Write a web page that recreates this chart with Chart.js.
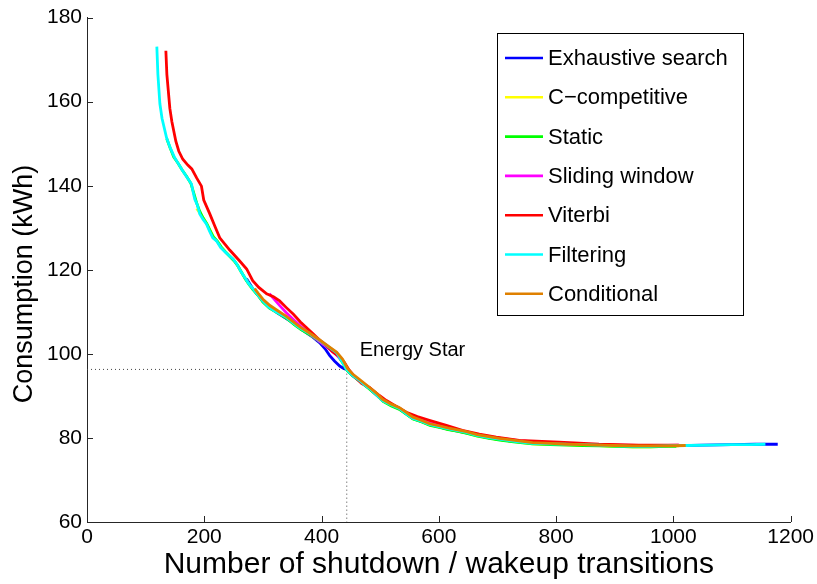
<!DOCTYPE html>
<html>
<head>
<meta charset="utf-8">
<script src="https://cdn.jsdelivr.net/npm/chart.js@4.4.0/dist/chart.umd.min.js"></script>
<style>
  body { margin: 0; background: #fff; }
  #wrap { width: 817px; height: 584px; }
</style>
</head>
<body>
<div id="wrap"><canvas id="grafik" width="817" height="584"></canvas></div>
<script>
// series labels, in the order MATLAB plotted them
const seriesNames = ['Exhaustive search', 'C\u2212competitive', 'Static', 'Sliding window', 'Viterbi', 'Filtering', 'Conditional'];
const seriesColors = ['#0000ff', '#ffff00', '#00ff00', '#ff00ff', '#ff0000', '#00ffff', '#df8000'];

const xTicks = [0, 200, 400, 600, 800, 1000, 1200];
const yTicks = [60, 80, 100, 120, 140, 160, 180];

// energy star reference point
const energyStarX = 443;
const energyStarY = 96.3;

const exhaustiveX = [272, 281, 290, 300, 312, 325, 340, 355, 368, 383, 397, 406, 414, 422, 431, 437, 443, 452, 465, 482, 504, 533, 555, 584, 615, 647, 685, 720, 760, 817, 873, 930, 990, 1050, 1100, 1140, 1178];
const exhaustiveY = [117.9, 115.9, 114.2, 112.5, 111.0, 109.7, 108.4, 107.0, 105.6, 104.2, 102.6, 101.2, 99.6, 98.3, 97.1, 96.6, 96.2, 94.9, 93.6, 91.7, 88.9, 86.9, 84.7, 83.2, 82.1, 81.2, 80.0, 79.3, 78.8, 78.5, 78.3, 78.1, 78.1, 78.3, 78.4, 78.5, 78.5];

const ccompX = [187, 193, 199, 205, 211, 216, 222, 229, 237, 244, 250, 256, 263, 270, 276, 282, 291, 300, 311, 321, 331, 341, 353, 364, 380, 397, 412, 426, 436, 443, 453, 465, 482, 493, 504, 518, 533, 545, 555, 570, 584, 600, 615, 630, 647, 665, 685, 703, 730, 759, 790, 817, 845, 873, 900, 930, 960, 990, 1010];
const ccompY = [134.6, 133.4, 132.2, 130.8, 129.1, 127.8, 126.9, 125.4, 124.2, 123.2, 122.4, 121.2, 119.5, 118.0, 116.6, 115.6, 114.1, 112.5, 111.0, 110.1, 109.3, 108.5, 107.1, 106.0, 104.6, 103.0, 101.5, 100.1, 98.0, 96.2, 94.9, 93.6, 91.7, 90.4, 88.8, 87.8, 86.9, 85.7, 84.6, 83.9, 83.1, 82.6, 82.1, 81.7, 81.2, 80.5, 80.0, 79.6, 79.1, 78.6, 78.5, 78.4, 78.3, 78.2, 78.0, 77.9, 77.9, 78.0, 78.1];

const staticX = [136, 142, 148, 155, 162, 170, 177, 182, 187, 192, 198, 204, 210, 215, 222, 229, 237, 244, 251, 257, 264, 270, 277, 283, 292, 300, 311, 322, 333, 342, 354, 365, 381, 397, 412, 426, 436, 444, 454, 466, 483, 494, 505, 519, 534, 546, 556, 571, 585, 601, 616, 631, 648, 666, 686, 704, 731, 760, 790, 818, 846, 874, 901, 931, 961, 991, 1005];
const staticY = [151.2, 148.9, 146.8, 145.4, 143.8, 142.2, 140.6, 138.3, 135.9, 134.0, 132.3, 131.0, 129.3, 127.9, 126.8, 125.4, 124.1, 123.1, 122.1, 121.0, 119.3, 117.8, 116.4, 115.3, 113.9, 112.3, 110.9, 110.0, 109.1, 108.3, 106.9, 105.8, 104.5, 102.9, 101.4, 99.9, 97.9, 96.0, 94.7, 93.4, 91.5, 90.2, 88.7, 87.6, 86.7, 85.5, 84.5, 83.8, 83.0, 82.5, 82.0, 81.6, 81.1, 80.4, 79.9, 79.5, 79.0, 78.6, 78.4, 78.3, 78.2, 78.1, 78.0, 77.9, 77.9, 78.0, 78.0];

const slidingX = [311, 318, 328, 340, 352, 365, 380, 396, 412, 425, 436, 445, 455, 468, 482, 500, 515, 530, 548, 565, 585, 610, 640, 670, 700, 740, 790, 840, 890, 940, 990, 1010];
const slidingY = [114.3, 113.2, 111.6, 109.8, 108.2, 106.5, 104.8, 103.0, 101.3, 99.8, 98.3, 96.4, 94.8, 93.2, 91.9, 89.6, 88.3, 87.3, 85.7, 84.7, 83.7, 82.8, 81.7, 80.7, 80.0, 79.3, 78.8, 78.5, 78.3, 78.2, 78.2, 78.3];

const viterbiX = [134.5, 136.2, 141.3, 144.7, 151.5, 156.6, 163.4, 171.9, 178.7, 187.2, 195.2, 199.1, 209.4, 217.9, 226.4, 243.4, 260.4, 272.3, 282.6, 293, 306.4, 318, 328.5, 340, 352, 364, 374.5, 386, 396.6, 408, 418.7, 430.6, 439.1, 447.7, 456.2, 468.1, 481.7, 498.7, 510.6, 527.7, 544.7, 563.4, 583.8, 612.8, 640, 669, 697.9, 737, 805, 873, 941, 992, 1009];
const viterbiY = [172.1, 166.5, 158.4, 155.3, 150.6, 148.2, 146.3, 144.9, 144.0, 141.8, 139.9, 136.6, 133.3, 130.4, 127.6, 124.7, 122.1, 120.2, 117.4, 115.8, 114.3, 113.6, 112.6, 111.0, 109.4, 107.6, 106.2, 104.7, 103.3, 102.0, 100.5, 99.3, 97.9, 96.0, 94.6, 93.0, 92.0, 90.1, 88.9, 87.5, 86.1, 85.1, 84.2, 83.0, 81.8, 80.9, 80.2, 79.4, 79.0, 78.5, 78.3, 78.3, 78.3];

const filteringX = [119.1, 120.9, 124.3, 128, 135.7, 142, 149.8, 156, 163.4, 171, 178.2, 181, 183.8, 188, 192.3, 198, 203.7, 209, 214.5, 220.8, 228, 236, 243, 249, 255.3, 262, 268.9, 275, 280.9, 290, 299.6, 310, 320, 330, 339.9, 352, 362.6, 380, 396.6, 411, 425.5, 435, 442.6, 452, 464.7, 472, 481.7, 492, 503.8, 518, 532.8, 544, 554.9, 570, 583.8, 600, 615, 630, 646.8, 665, 685, 703, 730, 759.1, 790, 817, 845, 873, 900, 930, 960, 990, 1021, 1060, 1100, 1130, 1157];
const filteringY = [173.1, 166.5, 159.5, 156, 151.4, 149, 146.6, 145.2, 143.5, 141.9, 140.4, 138.5, 136.8, 135.5, 133.3, 132.0, 130.9, 129.2, 127.6, 126.9, 125.3, 124.2, 123.3, 122.6, 121.4, 119.7, 118.2, 116.8, 115.8, 114.3, 112.6, 111.1, 110.2, 109.4, 108.7, 107.3, 106.2, 104.8, 103.2, 101.8, 100.3, 98.2, 96.3, 95.0, 93.7, 92.8, 91.8, 90.5, 88.9, 87.9, 87.0, 85.8, 84.7, 84.0, 83.2, 82.7, 82.2, 81.8, 81.3, 80.6, 80.1, 79.7, 79.2, 78.7, 78.6, 78.5, 78.4, 78.3, 78.1, 78.0, 78.0, 78.1, 78.2, 78.3, 78.4, 78.4, 78.5];

const conditionalX = [286, 292, 300, 312, 326, 340, 352, 363, 380, 397, 412, 426, 436, 444, 453, 465, 482, 494, 504, 518, 533, 545, 555, 570, 584, 600, 615, 630, 647, 665, 685, 703, 730, 760, 790, 817, 845, 873, 900, 930, 960, 990, 1021];
const conditionalY = [115.5, 114.4, 113.0, 111.5, 110.2, 108.9, 107.6, 106.4, 104.9, 103.3, 101.8, 100.4, 98.7, 96.6, 95.2, 93.9, 92.0, 90.6, 89.2, 88.1, 87.2, 86.0, 85.0, 84.2, 83.4, 82.9, 82.4, 82.0, 81.5, 80.8, 80.3, 79.9, 79.4, 78.9, 78.7, 78.5, 78.4, 78.3, 78.2, 78.1, 78.1, 78.1, 78.2];

const seriesX = [exhaustiveX, ccompX, staticX, slidingX, viterbiX, filteringX, conditionalX];
const seriesY = [exhaustiveY, ccompY, staticY, slidingY, viterbiY, filteringY, conditionalY];

function punkte(xs, ys) {
    return xs.map((x, i) => ({ x: x, y: ys[i] }));
}

const FONT = "'Liberation Sans', Arial, Helvetica, sans-serif";

const datasets = seriesNames.map((name, i) => ({
    label: name,
    data: punkte(seriesX[i], seriesY[i]),
    borderColor: seriesColors[i],
    borderWidth: 2.8,
    showLine: true,
    pointRadius: 0,
    tension: 0,
    // later series on top, like matlab
    order: seriesNames.length - i
}));

datasets.push({
    label: 'energyStar',
    data: [{ x: 0, y: energyStarY }, { x: energyStarX, y: energyStarY }, { x: energyStarX, y: 60 }],
    borderColor: '#444',
    borderWidth: 1,
    borderDash: [1, 3],
    showLine: true,
    pointRadius: 0,
    order: 20
});

// inward tick marks, y title, text label and the boxed legend
const matlabDeko = {
    id: 'matlabDeko',
    afterDraw(chart) {
        const ctx = chart.ctx;
        const xs = chart.scales.x, ys = chart.scales.y;
        const a = chart.chartArea;
        ctx.save();
        ctx.strokeStyle = '#262626';
        ctx.lineWidth = 1;
        ctx.beginPath();
        yTicks.forEach(v => {
            const py = Math.round(ys.getPixelForValue(v)) + 0.5;
            ctx.moveTo(a.left, py);
            ctx.lineTo(a.left + 6, py);
        });
        xTicks.forEach(v => {
            const px = Math.round(xs.getPixelForValue(v)) + 0.5;
            ctx.moveTo(px, a.bottom);
            ctx.lineTo(px, a.bottom - 6);
        });
        ctx.stroke();

        // y axis title, sits a bit below the axis middle in the original
        ctx.save();
        ctx.translate(25, 284);
        ctx.rotate(-Math.PI / 2);
        ctx.fillStyle = '#000';
        ctx.font = '27px ' + FONT;
        ctx.textAlign = 'center';
        ctx.textBaseline = 'middle';
        ctx.fillText('Consumption (kWh)', 0, 0);
        ctx.restore();

        ctx.fillStyle = '#000';
        ctx.font = '20px ' + FONT;
        ctx.textAlign = 'left';
        ctx.textBaseline = 'alphabetic';
        ctx.fillText('Energy Star', xs.getPixelForValue(energyStarX + 22), ys.getPixelForValue(99.6));

        // legend box
        const bx = 497, by = 33, bw = 246, bh = 282;
        ctx.fillStyle = '#fff';
        ctx.fillRect(bx, by, bw, bh);
        ctx.strokeStyle = '#000';
        ctx.strokeRect(bx + 0.5, by + 0.5, bw, bh);
        ctx.font = '22px ' + FONT;
        ctx.textBaseline = 'middle';
        seriesNames.forEach((name, i) => {
            const yy = by + 25 + i * 39.3;
            ctx.strokeStyle = seriesColors[i];
            ctx.lineWidth = 2.6;
            ctx.beginPath();
            ctx.moveTo(bx + 8, yy);
            ctx.lineTo(bx + 46, yy);
            ctx.stroke();
            ctx.fillStyle = '#000';
            ctx.fillText(name, bx + 51, yy + 1);
        });
        ctx.restore();
    }
};

new Chart(document.getElementById('grafik').getContext('2d'), {
    type: 'scatter',
    data: { datasets: datasets },
    plugins: [matlabDeko],
    options: {
        responsive: false,
        animation: false,
        devicePixelRatio: 1,
        layout: { padding: { top: 15, right: 25, left: 0, bottom: 0 } },
        plugins: {
            legend: { display: false },
            tooltip: { enabled: false }
        },
        scales: {
            x: {
                type: 'linear',
                min: 0,
                max: 1200,
                afterFit(scale) { scale.height = 62; },
                afterBuildTicks(scale) { scale.ticks = xTicks.map(v => ({ value: v })); },
                grid: { drawOnChartArea: false, drawTicks: false },
                border: { display: true, color: '#262626', width: 1 },
                ticks: { color: '#000', padding: 3, font: { family: FONT, size: 21 }, callback: v => String(v) },
                title: {
                    display: true,
                    text: 'Number of shutdown / wakeup transitions',
                    color: '#000',
                    font: { family: FONT, size: 30 },
                    padding: { top: 0, bottom: 1 }
                }
            },
            y: {
                type: 'linear',
                min: 60,
                max: 180,
                afterFit(scale) { scale.width = 87; },
                afterBuildTicks(scale) { scale.ticks = yTicks.map(v => ({ value: v })); },
                grid: { drawOnChartArea: false, drawTicks: false },
                border: { display: true, color: '#262626', width: 1 },
                ticks: { color: '#000', padding: 5, font: { family: FONT, size: 21 }, callback: v => String(v) },
                title: { display: false }
            }
        }
    }
});
</script>
</body>
</html>
